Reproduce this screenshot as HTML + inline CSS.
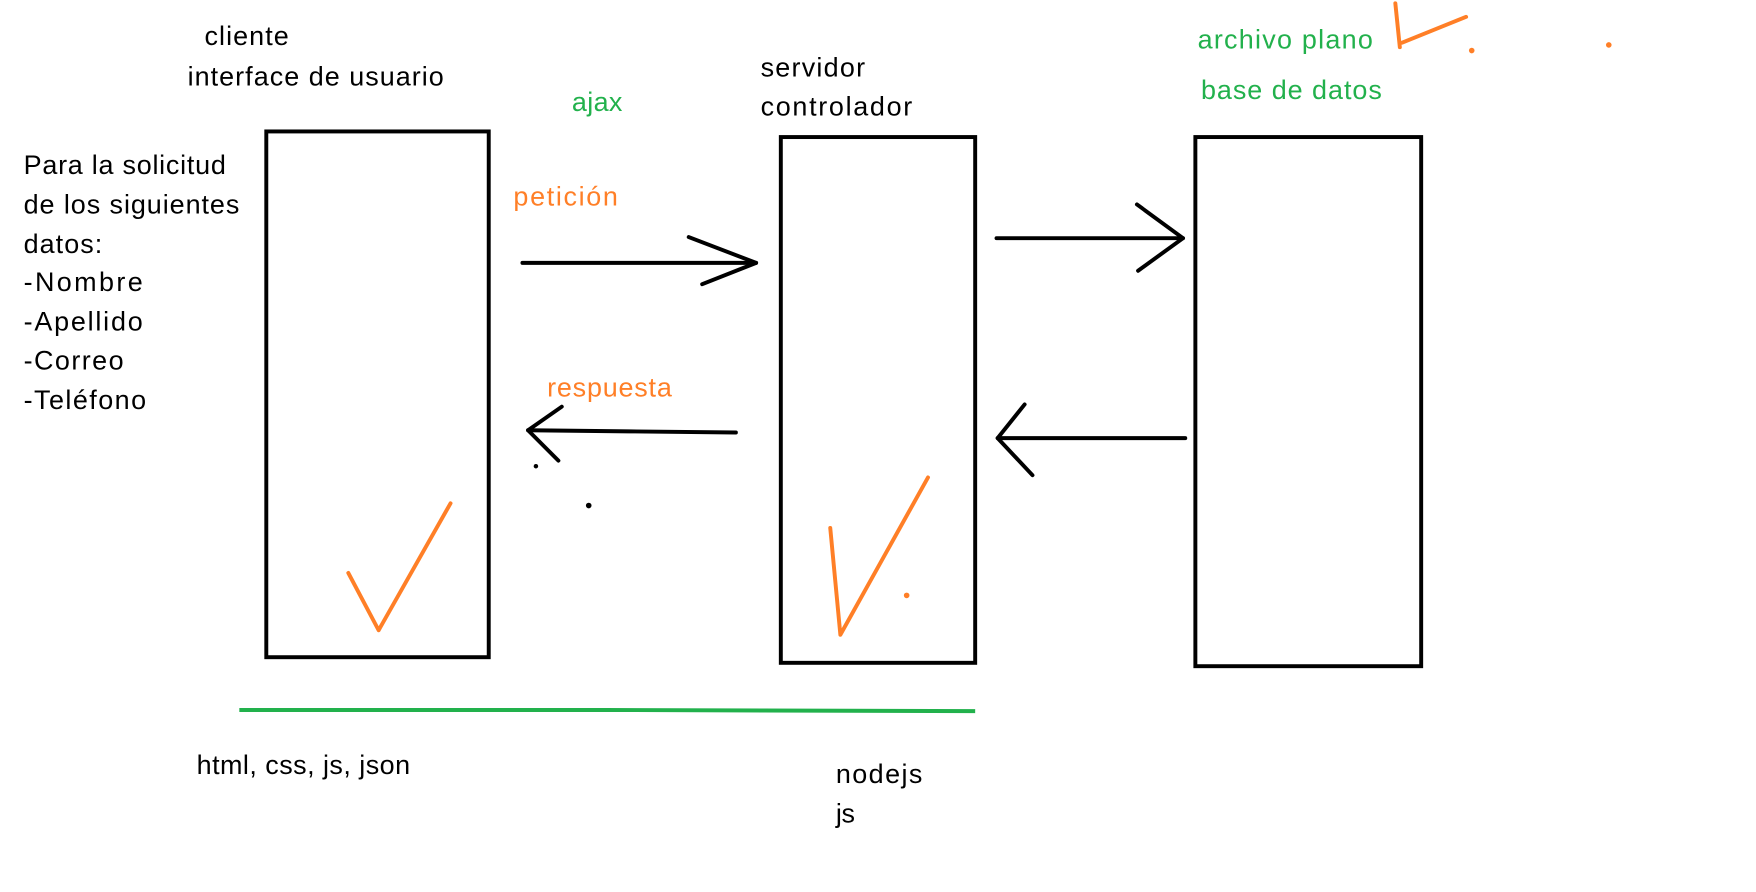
<!DOCTYPE html>
<html><head><meta charset="utf-8"><style>html,body{margin:0;padding:0;background:#fff;}svg{display:block}text{font-family:"Liberation Sans",sans-serif;font-size:24px;}</style></head>
<body>
<svg width="1756" height="892" viewBox="0 0 1563 794" xmlns="http://www.w3.org/2000/svg">
<rect x="0" y="0" width="1563" height="794" fill="#fff"/>
<g fill="none" stroke="#000" stroke-width="3.5">
<rect x="237" y="117" width="198" height="468"/>
<rect x="695" y="122" width="173" height="468"/>
<rect x="1064" y="122" width="201" height="471"/>
</g>
<g fill="none" stroke="#000" stroke-width="3.5" stroke-linecap="round" stroke-linejoin="round">
<line x1="465" y1="234" x2="673" y2="234"/><polyline points="613,211 673,234 625,253"/>
<line x1="887" y1="212" x2="1053" y2="212"/><polyline points="1012,182 1053,212 1013,241"/>
<polyline points="655,385 560,384 470,383"/><polyline points="500,362 470,383 497,410"/>
<line x1="1055" y1="390" x2="888" y2="390"/><polyline points="912,360 888,390 919,423"/>
</g>
<circle cx="477" cy="415" r="2" fill="#000"/><circle cx="524" cy="450" r="2.5" fill="#000"/>
<g fill="none" stroke="#ff7f27" stroke-width="3.5" stroke-linecap="round" stroke-linejoin="round">
<polyline points="310,510 337,561 401,448"/>
<polyline points="739,470 748,565 826,425"/>
<line x1="1242" y1="3" x2="1246" y2="42"/><line x1="1248" y1="38" x2="1305" y2="15"/>
</g>
<g fill="#ff7f27"><circle cx="807" cy="530" r="2.5"/><circle cx="1310" cy="45" r="2.5"/><circle cx="1432" cy="40" r="2.5"/></g>
<polyline points="213,632 540,632 868,633" fill="none" stroke="#22b14c" stroke-width="3.5"/>
<g fill="#000" lengthAdjust="spacingAndGlyphs">
<text x="182" y="40" textLength="75">cliente</text>
<text x="167" y="76" textLength="228">interface de usuario</text>
<text x="677" y="68" textLength="93">servidor</text>
<text x="677" y="103" textLength="135">controlador</text>
<text x="21" y="155" textLength="180">Para la solicitud</text>
<text x="21" y="190" textLength="192">de los siguientes</text>
<text x="21" y="225" textLength="70">datos:</text>
<text x="21" y="259" textLength="106">-Nombre</text>
<text x="21" y="294" textLength="106">-Apellido</text>
<text x="21" y="329" textLength="89">-Correo</text>
<text x="21" y="364" textLength="109">-Teléfono</text>
<text x="175" y="689" textLength="190">html, css, js, json</text>
<text x="744" y="697" textLength="77">nodejs</text>
<text x="744" y="732" textLength="17">js</text>
</g>
<g fill="#22b14c">
<text x="509" y="99" textLength="45">ajax</text>
<text x="1066" y="43" textLength="156">archivo plano</text>
<text x="1069" y="88" textLength="161">base de datos</text>
</g>
<g fill="#ff7f27">
<text x="457" y="183" textLength="93">petición</text>
<text x="487" y="353" textLength="111">respuesta</text>
</g>
</svg>
</body></html>
